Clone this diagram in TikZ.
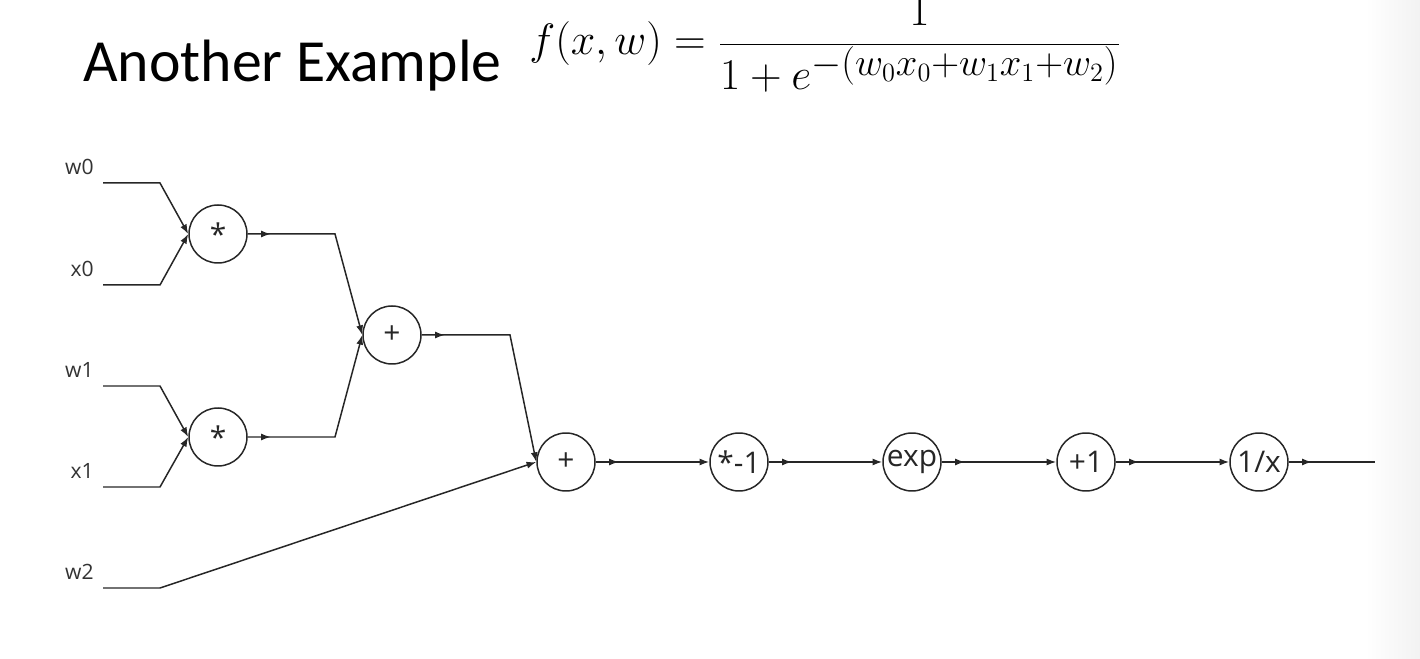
\RequirePackage{fix-cm}
\documentclass[tikz,border=0pt]{standalone}
\usepackage{fontspec}
\newfontfamily\titlefont{Carlito}
\newfontfamily\gatefont{Open Sans}
\DeclareMathSizes{25}{25}{22}{15}
\usetikzlibrary{arrows.meta,decorations.markings}

\begin{document}
\begin{tikzpicture}[
    >={Latex[length=5.5pt,width=4pt]},
    wire/.style={line width=0.85pt, black!85},
    gate/.style={circle, draw=black!85, line width=0.85pt, minimum size=1.16cm, inner sep=0pt,
                 font=\gatefont\fontsize{17}{19}\selectfont, text=black!85},
    lbl/.style={font=\gatefont\fontsize{12}{14}\selectfont, text=black!80, inner sep=0pt},
    flow/.style={postaction={decorate},
                 decoration={markings, mark=at position 0.46cm with {\arrow{>}}}}
]
    \useasboundingbox (0,0) rectangle (28.4,13.16);
    \shade[left color=white, right color=black!5] (27.3,0) rectangle (28.4,13.16);

    % Title and formula
    \node[anchor=base west, inner sep=0pt, font=\titlefont\fontsize{34}{40}\selectfont] (title) at (1.66,11.52) {Another Example};
    \node[anchor=base west, inner sep=0pt] (formula) at (10.58,12.06)
        {\fontsize{25}{30}\selectfont $\displaystyle f(x,w)=\frac{1}{1+e^{-(w_0x_0+w_1x_1+w_2)}}$};

    % Gates
    \node[gate] (star1) at (4.36,8.48) {*};
    \node[gate] (star2) at (4.36,4.42) {*};
    \node[gate] (plus1) at (7.84,6.46) {+};
    \node[gate] (plus2) at (11.32,3.92) {+};
    \node[gate] (neg) at (14.78,3.92) {*-1};
    \node[gate] (expo) at (18.24,3.92) {exp};
    \node[gate] (inc) at (21.72,3.92) {+1};
    \node[gate] (inv) at (25.18,3.92) {1/x};

    % Inputs
    \coordinate (w0in) at (2.06,9.50);
    \coordinate (x0in) at (2.06,7.46);
    \coordinate (w1in) at (2.06,5.44);
    \coordinate (x1in) at (2.06,3.42);
    \coordinate (w2in) at (2.06,1.40);
    \node[lbl, anchor=base east] (w0lbl) at (1.88,9.66) {w0};
    \node[lbl, anchor=base east] (x0lbl) at (1.88,7.62) {x0};
    \node[lbl, anchor=base east] (w1lbl) at (1.88,5.60) {w1};
    \node[lbl, anchor=base east] (x1lbl) at (1.88,3.58) {x1};
    \node[lbl, anchor=base east] (w2lbl) at (1.88,1.56) {w2};

    \draw[wire, ->] (w0in) -- (3.20,9.50) -- (star1.west);
    \draw[wire, ->] (x0in) -- (3.20,7.46) -- (star1.west);
    \draw[wire, ->] (w1in) -- (3.20,5.44) -- (star2.west);
    \draw[wire, ->] (x1in) -- (3.20,3.42) -- (star2.west);
    \draw[wire, ->] (w2in) -- (3.20,1.40) -- (plus2.west);

    % Forward wires
    \draw[wire, flow, ->] (star1.east) -- (6.70,8.48) -- (plus1.west);
    \draw[wire, flow, ->] (star2.east) -- (6.70,4.42) -- (plus1.west);
    \draw[wire, flow, ->] (plus1.east) -- (10.20,6.46) -- (plus2.west);
    \draw[wire, flow, ->] (plus2) -- (neg);
    \draw[wire, flow, ->] (neg) -- (expo);
    \draw[wire, flow, ->] (expo) -- (inc);
    \draw[wire, flow, ->] (inc) -- (inv);
    \coordinate (out) at (27.50,3.92);
    \draw[wire, flow] (inv) -- (out);
\end{tikzpicture}
\end{document}
